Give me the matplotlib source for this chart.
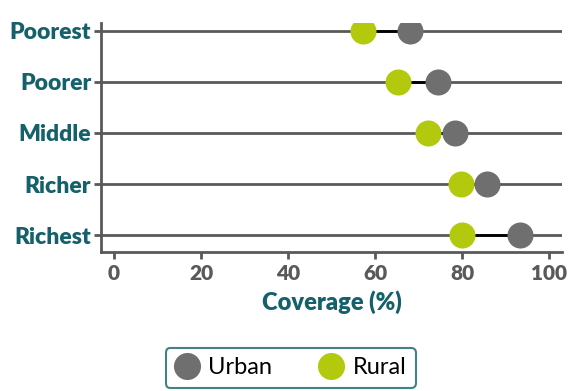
import matplotlib
matplotlib.use("Agg")
import matplotlib.pyplot as plt
from matplotlib.lines import Line2D

plt.rcParams['font.family'] = ['Lato', 'DejaVu Sans']

# data
groups = ["Poorest", "Poorer", "Middle", "Richer", "Richest"]
urban = [68.0, 74.6, 78.5, 85.7, 93.3]
rural = [57.2, 65.4, 72.3, 79.7, 80.1]
xticks = [0, 20, 40, 60, 80, 100]

teal = "#14606b"
grey_dot = "#6f6f6f"
green_dot = "#b2c90d"
axis_grey = "#595959"

fig = plt.figure(figsize=(5.7, 3.91), dpi=100)
ax = fig.add_axes([101 / 570, 1 - 252 / 391, (562 - 101) / 570, (252 - 23) / 391])

ypos = list(range(len(groups)))
for y, u, r in zip(ypos, urban, rural):
    ax.axhline(y, color=axis_grey, lw=2, zorder=1)
    ax.plot([r, u], [y, y], color="black", lw=2, zorder=2)
ax.scatter(urban, ypos, s=26 ** 2 * 0.52, color=grey_dot, zorder=3, linewidths=0)
ax.scatter(rural, ypos, s=26 ** 2 * 0.52, color=green_dot, zorder=3, linewidths=0)

ax.set_xlim(-3, 103)
ax.set_ylim(4.33, -0.15)
ax.set_yticks(ypos)
ax.set_yticklabels(groups, fontsize=16.5, fontweight="heavy", color=teal)
ax.set_xticks(xticks)
ax.set_xticklabels([str(t) for t in xticks], fontsize=15, fontweight="heavy", color=axis_grey)
ax.set_xlabel("Coverage (%)", fontsize=17, fontweight="heavy", color=teal, labelpad=5)

for s in ["top", "right"]:
    ax.spines[s].set_visible(False)
for s in ["left", "bottom"]:
    ax.spines[s].set_color(axis_grey)
    ax.spines[s].set_linewidth(2)
ax.tick_params(axis="both", colors=axis_grey, width=2, length=5)
ax.tick_params(axis="x", pad=4)
ax.tick_params(axis="y", pad=2, labelcolor=teal)
for lab in ax.get_xticklabels():
    lab.set_color(axis_grey)

handles = [
    Line2D([], [], marker="o", ls="", markersize=19.5, color=grey_dot, markeredgewidth=0),
    Line2D([], [], marker="o", ls="", markersize=19.5, color=green_dot, markeredgewidth=0),
]
leg = fig.legend(handles, ["Urban", "Rural"], loc="upper center",
                 bbox_to_anchor=(0.51, 1 - 348 / 391), ncol=2, fontsize=17,
                 frameon=True, fancybox=True, edgecolor=teal, handletextpad=0.4,
                 columnspacing=2.0, borderpad=0.4, handlelength=1.0,
                 borderaxespad=0)
leg.get_frame().set_linewidth(1.5)

fig.savefig("out.png", dpi=100)
